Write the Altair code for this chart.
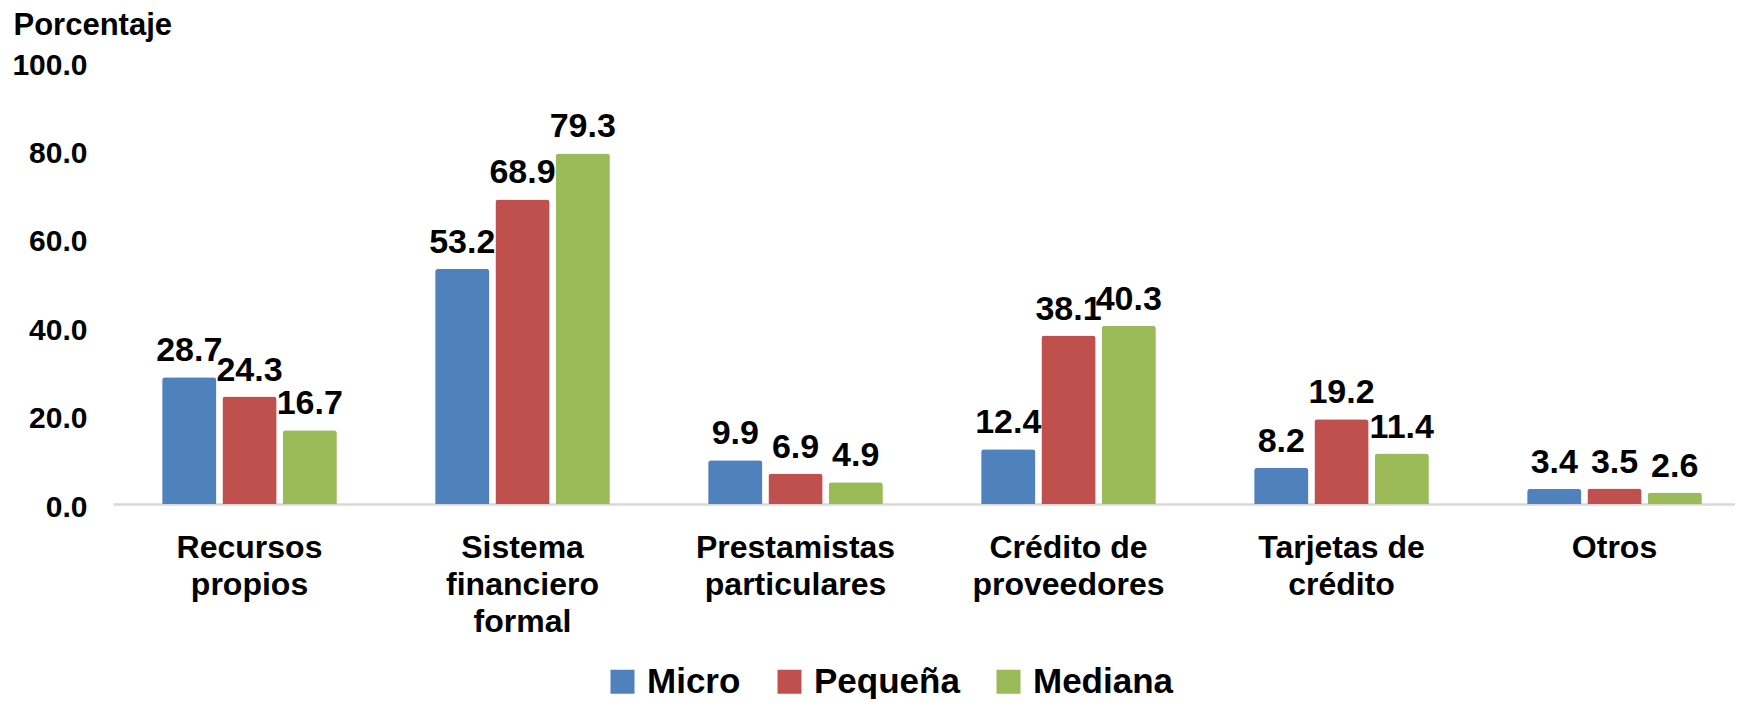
import altair as alt
import pandas as pd

categories = ["Recursos\npropios", "Sistema\nfinanciero\nformal", "Prestamistas\nparticulares",
              "Crédito de\nproveedores", "Tarjetas de\ncrédito", "Otros"]
series = ["Micro", "Pequeña", "Mediana"]
micro = [28.7, 53.2, 9.9, 12.4, 8.2, 3.4]
pequena = [24.3, 68.9, 6.9, 38.1, 19.2, 3.5]
mediana = [16.7, 79.3, 4.9, 40.3, 11.4, 2.6]
colors = ["#4F81BD", "#C0504D", "#9BBB59"]
y_ticks = [0, 20, 40, 60, 80, 100]

rows = []
for s, vals in zip(series, [micro, pequena, mediana]):
    for c, v in zip(categories, vals):
        rows.append({"cat": c, "serie": s, "valor": v})
df = pd.DataFrame(rows)

FONT = "Liberation Sans"

x_enc = alt.X("cat:N", sort=categories,
              scale=alt.Scale(range=[0, 1638], paddingInner=0.36, paddingOuter=0.18),
              axis=alt.Axis(title=None, labelAngle=0, labelFont=FONT, labelFontSize=32,
                            labelFontWeight="bold", labelColor="#000000",
                            labelExpr="split(datum.value, '\\n')", labelLineHeight=37,
                            labelBaseline="top", labelPadding=28, ticks=False,
                            domainColor="#d9d9d9", domainWidth=2.5, labelLimit=400))
xoff = alt.XOffset("serie:N", sort=series, scale=alt.Scale(paddingInner=0.1))
y_enc = alt.Y("valor:Q", scale=alt.Scale(domain=[0, 100], nice=False),
              axis=alt.Axis(values=y_ticks, format=".1f", grid=False, domain=False, ticks=False,
                            labelFont=FONT, labelFontSize=30, labelFontWeight="bold",
                            labelColor="#000000", labelPadding=26, labelOffset=3,
                            title="Porcentaje", titleAngle=0, titleX=-100, titleY=-28,
                            titleAlign="left", titleBaseline="alphabetic", titleFont=FONT,
                            titleFontSize=31, titleFontWeight="bold", titleColor="#000000"))

bars = alt.Chart(df).mark_bar(cornerRadiusTopLeft=3, cornerRadiusTopRight=3).encode(
    x=x_enc, xOffset=xoff, y=y_enc,
    color=alt.Color("serie:N", sort=series,
                    scale=alt.Scale(domain=series, range=colors),
                    legend=alt.Legend(title=None, orient="none", legendX=492, legendY=602,
                                      direction="horizontal", symbolType="square",
                                      symbolSize=576, symbolStrokeWidth=0, symbolOpacity=1,
                                      labelFont=FONT,
                                      labelFontSize=35, labelFontWeight="bold",
                                      labelColor="#000000", labelOffset=7, columnPadding=31,
                                      labelLimit=300))
)

labels = alt.Chart(df).mark_text(baseline="alphabetic", dy=-16, font=FONT, fontSize=34,
                                  fontWeight="bold", color="#000000").encode(
    x=alt.X("cat:N", sort=categories), xOffset=alt.XOffset("serie:N", sort=series),
    y="valor:Q", text=alt.Text("valor:Q", format=".1f")
)

chart = (bars + labels).properties(
    width=1622, height=442, autosize="none",
    padding={"left": 105, "top": 54, "right": 0, "bottom": 195},
    background="#ffffff"
).configure_view(stroke=None)

chart.save("out.html", embed_options={"renderer": "svg", "actions": False})
